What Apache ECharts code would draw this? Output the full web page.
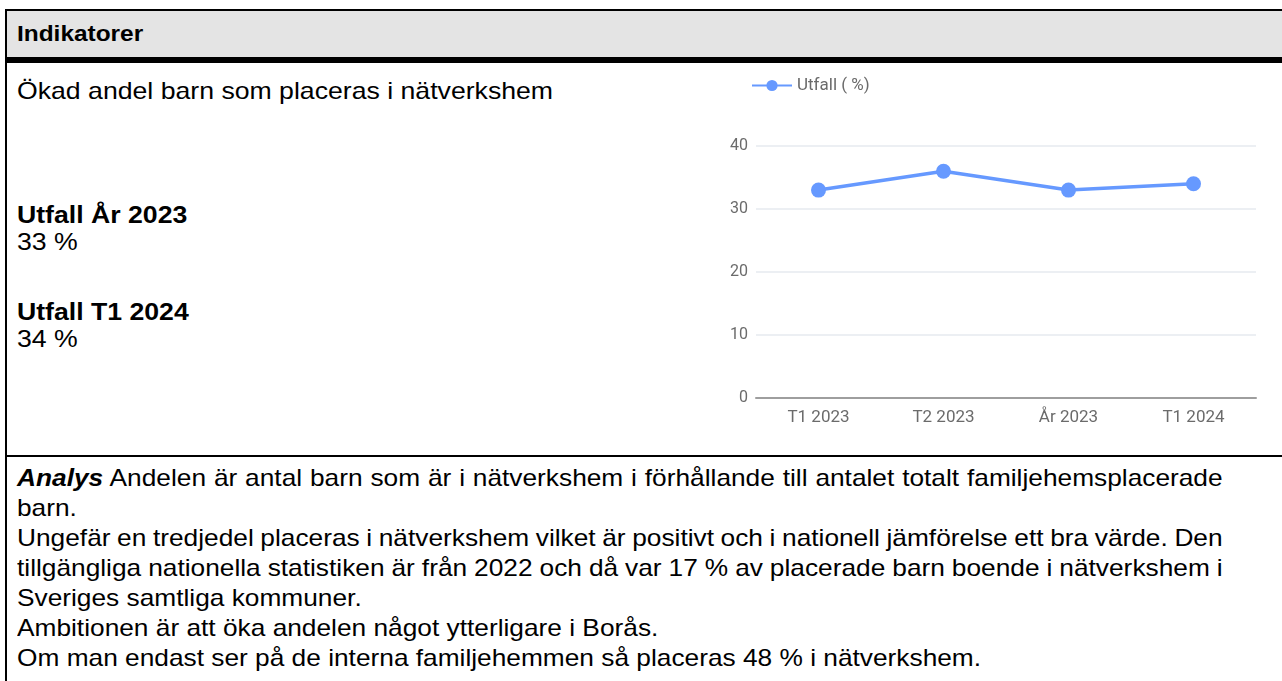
<!DOCTYPE html>
<html>
<head>
<meta charset="utf-8">
<script src="https://cdn.jsdelivr.net/npm/echarts@6/dist/echarts.min.js"></script>
<style>
  html, body { margin: 0; padding: 0; background: #fff; }
  body { width: 1282px; height: 681px; position: relative; overflow: hidden;
         font-family: "Liberation Sans", Arial, sans-serif; color: #000; }
  .frame_top { position: absolute; left: 5px; top: 9px; width: 1277px; height: 2px; background: #000; }
  .frame_left { position: absolute; left: 5px; top: 9px; width: 2px; height: 672px; background: #000; }
  .head_bg { position: absolute; left: 7px; top: 11px; width: 1275px; height: 46px; background: #e4e4e4; }
  .head_bar { position: absolute; left: 7px; top: 57px; width: 1275px; height: 6px; background: #000; }
  .split { position: absolute; left: 7px; top: 455px; width: 1275px; height: 2px; background: #000; }
  .t { position: absolute; left: 17px; white-space: nowrap; line-height: 1;
       font-size: 24px; transform: scaleX(1.11); transform-origin: 0 0; }
  .a { transform: scaleX(1.095); }
  .j { white-space: normal; width: 1101px; text-align: justify; text-align-last: justify; word-spacing: -1.5px; }
  .h { font-size: 22px; font-weight: bold; }
  .b { font-weight: bold; }
  .bi { font-weight: bold; font-style: italic; }
  .chart_box { position: absolute; left: 700px; top: 64px; width: 582px; height: 390px; }
</style>
</head>
<body>
  <div class="frame_top"></div>
  <div class="frame_left"></div>
  <div class="head_bg"></div>
  <div class="head_bar"></div>
  <div class="split"></div>

  <div class="t h" style="top:23px">Indikatorer</div>
  <div class="t" style="top:79px">Ökad andel barn som placeras i nätverkshem</div>
  <div class="t b" style="top:203px">Utfall År 2023</div>
  <div class="t" style="top:230px">33 %</div>
  <div class="t b" style="top:300px">Utfall T1 2024</div>
  <div class="t" style="top:327px">34 %</div>

  <div class="t a j" style="top:466px"><span class="bi">Analys</span> Andelen är antal barn som är i nätverkshem i förhållande till antalet totalt familjehemsplacerade</div>
  <div class="t a" style="top:496px">barn.</div>
  <div class="t a j" style="top:526px">Ungefär en tredjedel placeras i nätverkshem vilket är positivt och i nationell jämförelse ett bra värde. Den</div>
  <div class="t a j" style="top:556px">tillgängliga nationella statistiken är från 2022 och då var 17 % av placerade barn boende i nätverkshem i</div>
  <div class="t a" style="top:586px">Sveriges samtliga kommuner.</div>
  <div class="t a" style="top:616px">Ambitionen är att öka andelen något ytterligare i Borås.</div>
  <div class="t a" style="top:646px">Om man endast ser på de interna familjehemmen så placeras 48 % i nätverkshem.</div>

  <div class="chart_box" id="utfall_chart"></div>

<script>
  // data
  const categories = ['T1 2023', 'T2 2023', 'År 2023', 'T1 2024']
  const utfall = [33, 36, 33, 34]
  const seriesName = 'Utfall ( %)'
  const yMin = 0
  const yMax = 40
  const yStep = 10

  const myChart = echarts.init(document.getElementById('utfall_chart'))

  const option = {
    animation: false,
    textStyle: { fontFamily: 'Roboto' },
    grid: {
      left: 56,
      right: 26,
      top: 82,
      bottom: 56
    },
    legend: {
      data: [seriesName],
      left: 46,
      top: 8,
      itemWidth: 40,
      itemHeight: 14,
      itemGap: 10,
      textStyle: { color: '#6b6b6b', fontSize: 17, fontFamily: 'Roboto' }
    },
    xAxis: {
      type: 'category',
      data: categories,
      axisTick: { show: false },
      axisLine: { show: true, lineStyle: { color: '#9e9e9e', width: 2 } },
      axisLabel: { color: '#6b6b6b', fontSize: 17, margin: 11 }
    },
    yAxis: {
      type: 'value',
      min: yMin,
      max: yMax,
      interval: yStep,
      axisLine: { show: false },
      axisTick: { show: false },
      axisLabel: { color: '#6b6b6b', fontSize: 16, margin: 8 },
      splitLine: { lineStyle: { color: '#e6eaef', width: 1.5 } }
    },
    series: [
      {
        name: seriesName,
        type: 'line',
        data: utfall,
        symbol: 'circle',
        symbolSize: 15,
        lineStyle: { color: '#6699ff', width: 3.5 },
        itemStyle: { color: '#6699ff' }
      }
    ]
  }
  myChart.setOption(option)
</script>
</body>
</html>
